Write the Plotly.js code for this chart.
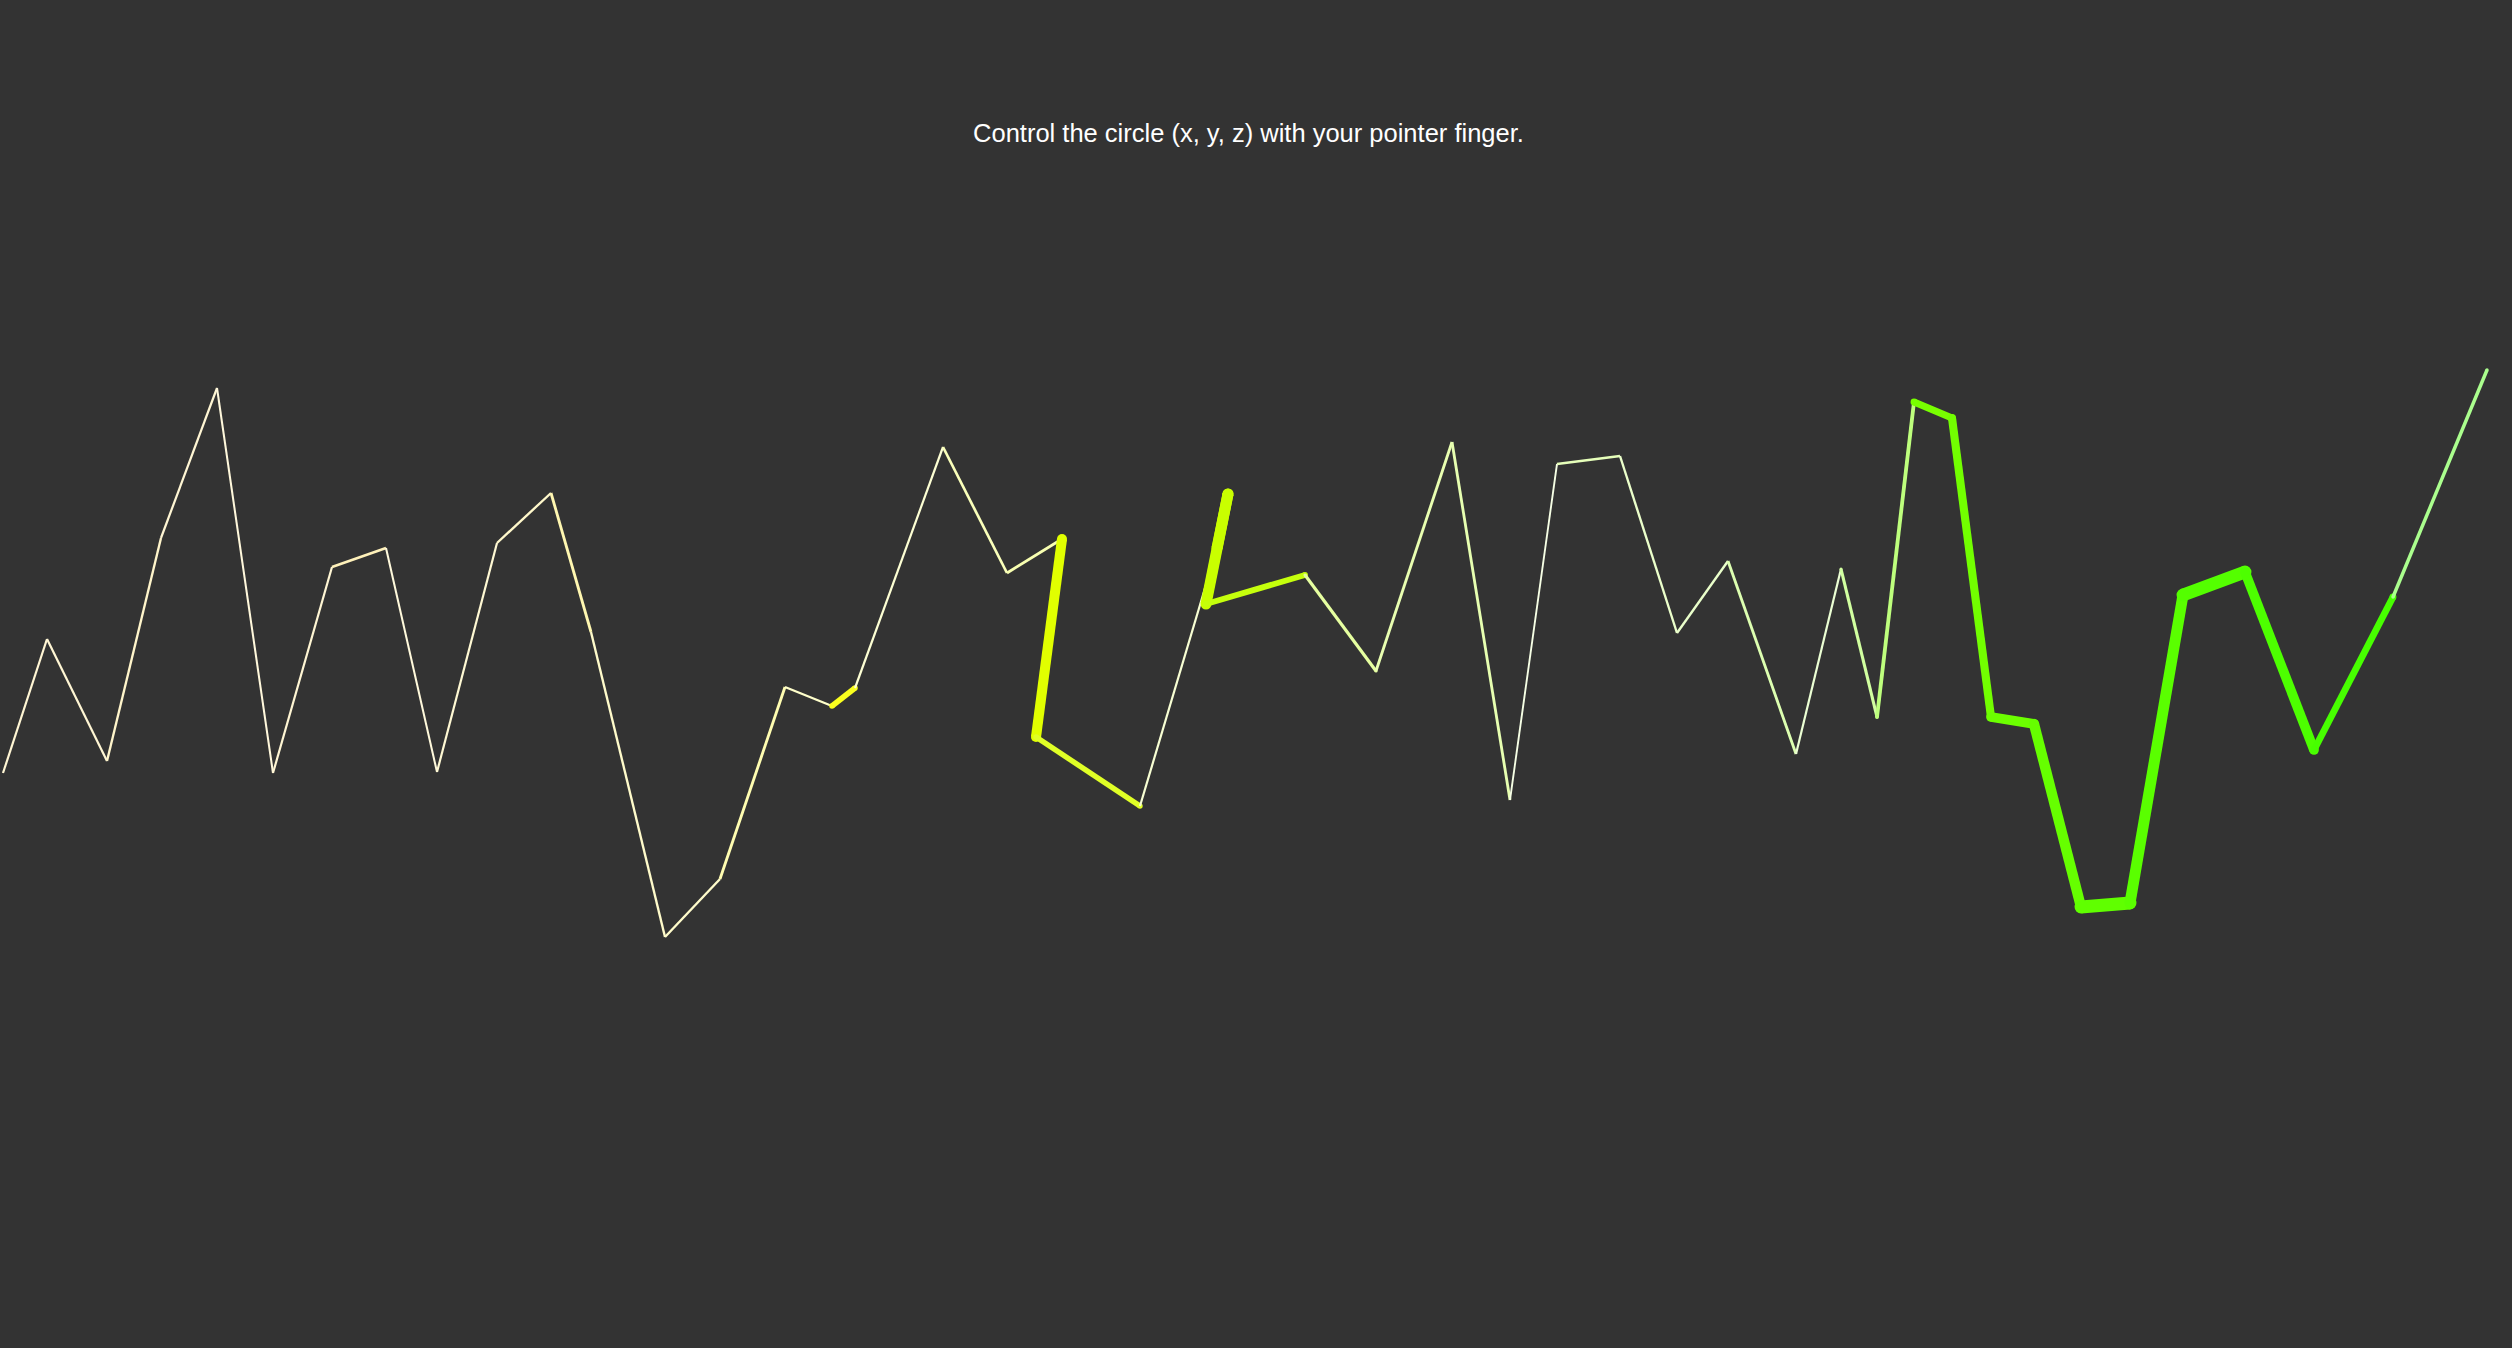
<!DOCTYPE html>
<html>
<head>
<meta charset="utf-8">
<script src="https://cdn.plot.ly/plotly-3.0.1.min.js"></script>
<style>
  html, body { margin: 0; padding: 0; background: #333333; }
  #plot { width: 2512px; height: 1348px; }
</style>
</head>
<body>
<div id="plot"></div>
<script>
// pointer path, in sketch (canvas) units, y grows downward
let xs = [3, 47, 107, 161, 217, 273, 332, 386, 437, 497, 551, 591, 665, 720, 785, 832,
          855, 943, 1007, 1062, 1036, 1140, 1217, 1228, 1206, 1305, 1376, 1452, 1510, 1557,
          1620, 1677, 1728, 1796, 1841, 1877, 1914, 1952, 1991, 2034, 2081, 2130, 2183,
          2245, 2314, 2393, 2487];
let ys = [773, 639, 761, 538, 388, 773, 567, 548, 772, 543, 493, 632, 937, 879, 687, 706,
          688, 447, 573, 539, 737, 806, 548, 494, 604, 575, 671, 442, 800, 464,
          456, 633, 561, 754, 569, 717, 402, 418, 717, 724, 907, 903, 595,
          572, 750, 597, 370];
// z (depth) reached at each point, 0 = far, 1 = close
let zs = [0.05, 0.05, 0.05, 0.06, 0.05, 0.04, 0.05, 0.08, 0.04, 0.05, 0.06, 0.09, 0.06, 0.06, 0.09, 0.06,
          0.26, 0.05, 0.08, 0.09, 0.54, 0.25, 0.05, 0.6, 0.6, 0.28, 0.11, 0.09, 0.09, 0.03,
          0.08, 0.06, 0.06, 0.09, 0.05, 0.11, 0.15, 0.34, 0.42, 0.52, 0.56, 0.72, 0.6,
          0.72, 0.52, 0.34, 0.13];

let title = 'Control the circle (x, y, z) with your pointer finger.';

function hslToRgb(h, s, l) {
  let c = (1 - Math.abs(2 * l - 1)) * s;
  let hp = h / 60;
  let x = c * (1 - Math.abs(hp % 2 - 1));
  let r = 0, g = 0, b = 0;
  if (hp < 1) { r = c; g = x; }
  else if (hp < 2) { r = x; g = c; }
  else if (hp < 3) { g = c; b = x; }
  let m = l - c / 2;
  return [r + m, g + m, b + m].map(v => v * 255);
}

// hue drifts from yellow to green along the path, closeness adds saturation
function segColor(i, z) {
  let hue = Math.max(48, 38 + 1.45 * i);
  let pure = hslToRgb(hue, 1, 0.5);
  let s = Math.min(1, 3.4 * z);
  let rgb = pure.map(v => Math.round(255 * (1 - s) + v * s));
  return 'rgb(' + rgb.join(',') + ')';
}

let data = [];
for (let i = 1; i < xs.length; i++) {
  let w = 1.4 + 16 * zs[i];
  let col = segColor(i, zs[i]);
  data.push({
    x: [xs[i - 1], xs[i]],
    y: [ys[i - 1], ys[i]],
    type: 'scatter',
    mode: w > 3 ? 'lines+markers' : 'lines',
    line: {color: col, width: w},
    marker: {color: col, size: w, line: {width: 0}},
    hoverinfo: 'skip'
  });
}

let layout = {
  width: 2512,
  height: 1348,
  paper_bgcolor: '#333333',
  plot_bgcolor: '#333333',
  margin: {l: 0, r: 0, t: 0, b: 0},
  showlegend: false,
  title: {
    text: title,
    font: {family: 'Liberation Sans, Arial, sans-serif', size: 25.5, color: '#ffffff'},
    x: 0.497,
    xanchor: 'center',
    xref: 'paper',
    yref: 'container',
    y: 1 - 133 / 1348,
    yanchor: 'middle'
  },
  xaxis: {range: [0, 2512], visible: false, fixedrange: true},
  yaxis: {range: [1348, 0], visible: false, fixedrange: true}
};

Plotly.newPlot('plot', data, layout, {displayModeBar: false, staticPlot: true});
</script>
</body>
</html>
